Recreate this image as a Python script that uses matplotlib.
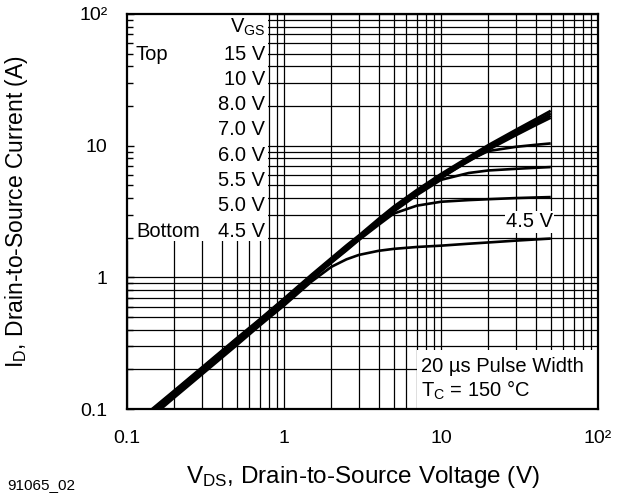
import matplotlib
matplotlib.use("Agg")
import matplotlib.pyplot as plt
from matplotlib.patches import Rectangle
from matplotlib.ticker import FixedLocator, LogLocator, NullFormatter

plt.rcParams['font.family'] = ['Liberation Sans', 'DejaVu Sans']
plt.rcParams['mathtext.fontset'] = 'custom'
plt.rcParams['mathtext.rm'] = 'Liberation Sans'
plt.rcParams['mathtext.it'] = 'Liberation Sans:italic'
plt.rcParams['mathtext.default'] = 'regular'

# V_DS points (V)
vds = [0.14, 0.2, 0.3, 0.5, 0.7, 1.0, 1.5, 2.0, 2.5, 3.0, 4.0, 5.0, 7.0,
       10, 15, 20, 30, 40, 50]

# I_D (A) for each V_GS
id_15v = [0.097, 0.138, 0.207, 0.345, 0.48, 0.69, 1.05, 1.40, 1.75, 2.08,
          2.78, 3.45, 4.6, 6.1, 8.2, 10.1, 13.2, 15.9, 18.4]
id_10v = [0.095, 0.136, 0.204, 0.34, 0.475, 0.68, 1.03, 1.38, 1.72, 2.05,
          2.72, 3.38, 4.5, 5.95, 8.0, 9.85, 12.8, 15.3, 17.6]
id_8v = [0.093, 0.134, 0.200, 0.335, 0.468, 0.67, 1.02, 1.36, 1.70, 2.02,
         2.68, 3.32, 4.42, 5.85, 7.8, 9.6, 12.4, 14.8, 16.9]
id_7v = [0.092, 0.132, 0.198, 0.33, 0.462, 0.66, 1.00, 1.34, 1.68, 2.00,
         2.65, 3.28, 4.36, 5.75, 7.6, 9.3, 12.0, 14.3, 16.3]
id_6v = [0.090, 0.130, 0.195, 0.325, 0.455, 0.65, 0.99, 1.32, 1.65, 1.97,
         2.60, 3.22, 4.28, 5.65, 7.7, 9.1, 9.8, 10.15, 10.4]
id_55v = [0.089, 0.128, 0.192, 0.32, 0.45, 0.64, 0.98, 1.30, 1.62, 1.94,
          2.56, 3.16, 4.2, 5.5, 6.2, 6.48, 6.67, 6.79, 6.88]
id_5v = [0.088, 0.127, 0.190, 0.318, 0.445, 0.635, 0.97, 1.29, 1.60, 1.92,
         2.50, 3.05, 3.5, 3.75, 3.86, 3.92, 4.0, 4.04, 4.07]
id_45v = [0.085, 0.122, 0.183, 0.305, 0.43, 0.61, 0.93, 1.20, 1.37, 1.48,
          1.59, 1.645, 1.70, 1.74, 1.80, 1.84, 1.90, 1.94, 1.97]

curves = [id_15v, id_10v, id_8v, id_7v, id_6v, id_55v, id_5v, id_45v]
vgs_labels = ["15 V", "10 V", "8.0 V", "7.0 V", "6.0 V", "5.5 V",
              "5.0 V", "4.5 V"]

x_ticks = [0.1, 1, 10, 100]
x_ticklabels = ["0.1", "1", "10", "10²"]
y_ticks = [0.1, 1, 10, 100]
y_ticklabels = ["0.1", "1", "10", "10²"]

W, H = 621, 495
fig = plt.figure(figsize=(W / 100, H / 100), dpi=100)
rect = [127 / W, (H - 409) / H, 471 / W, 395 / H]
ax = fig.add_axes(rect)


def fy(py):
    # pixel row of the picture -> axes fraction
    return 1 - (py - 14) / 395


def fx(px):
    return (px - 127) / 471


ax.set_xscale('log')
ax.set_yscale('log')
ax.set_xlim(0.1, 100)
ax.set_ylim(0.1, 100)

ax.set_axisbelow(True)
ax.grid(True, which='both', color='black', linewidth=0.9)

for cur in curves:
    ax.plot(vds, cur, color='black', linewidth=1.9, solid_capstyle='butt',
            zorder=3)

# white panels hiding the grid behind the texts
ax.add_patch(Rectangle((0.1, 1.9), 0.79 - 0.1, 100 - 1.9, facecolor='white',
                       edgecolor='none', zorder=1))
ax.add_patch(Rectangle((7.05, 0.1), 100 - 7.05, 0.28 - 0.1,
                       facecolor='white', edgecolor='none', zorder=1))

ax.xaxis.set_major_locator(FixedLocator(x_ticks))
ax.yaxis.set_major_locator(FixedLocator(y_ticks))
ax.xaxis.set_minor_locator(LogLocator(base=10, subs=range(2, 10)))
ax.yaxis.set_minor_locator(LogLocator(base=10, subs=range(2, 10)))
ax.xaxis.set_minor_formatter(NullFormatter())
ax.yaxis.set_minor_formatter(NullFormatter())
ax.set_xticklabels(x_ticklabels, fontsize=14)
ax.set_yticklabels(y_ticklabels, fontsize=14)
ax.tick_params(which='both', length=0)
ax.tick_params(axis='x', pad=15)
ax.tick_params(axis='y', pad=14)
for s in ax.spines.values():
    s.set_linewidth(1.6)
    s.set_zorder(5)

# overlay axes for inward ticks on the left spine (drawn above white panel)
ax2 = fig.add_axes(rect, sharex=ax, sharey=ax)
ax2.patch.set_visible(False)
for s in ax2.spines.values():
    s.set_visible(False)
ax2.tick_params(which='both', direction='in', left=True, bottom=False,
                labelleft=False, labelbottom=False)
ax2.tick_params(which='major', length=5, width=1)
ax2.tick_params(which='minor', length=4, width=1)

ax.set_xlabel(r"V$_{DS}$, Drain-to-Source Voltage (V)", fontsize=17.5)
ax.xaxis.set_label_coords(0.5, -(464 - 409) / 395)
ax.set_ylabel(r"I$_{D}$, Drain-to-Source Current (A)", fontsize=16.5)
ax.yaxis.set_label_coords(fx(30), 0.5)

# V_GS legend text
fs = 14.5
cap = 0.716 * fs * 100 / 72 / 2
tx = fx(265)
ax.text(tx, fy(25 + cap), r"V$_{GS}$", transform=ax.transAxes, ha='right',
        va='baseline', fontsize=fs, zorder=6)
for i, lab in enumerate(vgs_labels):
    ax.text(tx, fy(52.3 + i * 25.3 + cap), lab, transform=ax.transAxes,
            ha='right', va='baseline', fontsize=fs, zorder=6)
ax.text(fx(136), fy(52.3 + cap), "Top", transform=ax.transAxes, ha='left',
        va='baseline', fontsize=fs, zorder=6)
ax.text(fx(136), fy(229.3 + cap), "Bottom", transform=ax.transAxes,
        ha='left', va='baseline', fontsize=fs, zorder=6)

ax.text(fx(553), fy(227.3), "4.5 V", transform=ax.transAxes, ha='right',
        va='baseline', fontsize=fs, zorder=6,
        bbox=dict(facecolor='white', edgecolor='none', pad=1.0))

ax.text(fx(420.7), fy(372), "20 µs Pulse Width", transform=ax.transAxes,
        ha='left', va='baseline', fontsize=fs, zorder=6)
ax.text(fx(420.7), fy(397), r"T$_{C}$ = 150 °C", transform=ax.transAxes,
        ha='left', va='baseline', fontsize=fs, zorder=6)

fig.text(7 / W, 1 - 489 / H, "91065_02", ha='left', va='baseline',
         fontsize=11)

fig.savefig("out.png", dpi=100)
